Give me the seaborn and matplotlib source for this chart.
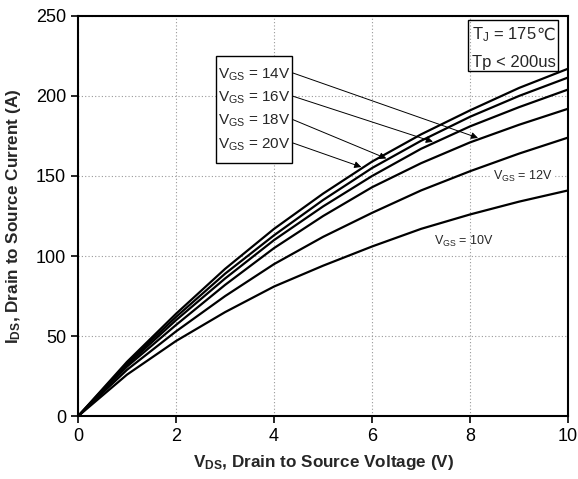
import numpy as np
import pandas as pd
import seaborn as sns
import matplotlib
matplotlib.use("Agg")
import matplotlib.pyplot as plt
from matplotlib.patches import Rectangle

# output characteristics at 1 V steps
vds = [0, 1, 2, 3, 4, 5, 6, 7, 8, 9, 10]
id_20v = [0, 34, 64, 92, 117, 139, 159, 176, 191, 205, 217]
id_18v = [0, 33, 62, 89, 113, 135, 155, 172, 187, 200, 211.5]
id_16v = [0, 32, 60, 86, 110, 131, 150, 167, 181, 193, 204]
id_14v = [0, 31, 57, 82, 105, 125, 143, 158, 171, 182, 192]
id_12v = [0, 29, 53, 75, 95, 112, 127, 141, 153, 164, 174]
id_10v = [0, 26, 47, 65, 81, 94, 106, 117, 126, 134, 141]

vgs_names = ["20V", "18V", "16V", "14V", "12V", "10V"]
curves = [id_20v, id_18v, id_16v, id_14v, id_12v, id_10v]

x_ticks = [0, 2, 4, 6, 8, 10]
y_ticks = [0, 50, 100, 150, 200, 250]

df = pd.DataFrame({
    "vds": vds * len(curves),
    "ids": [v for c in curves for v in c],
    "vgs": [n for n in vgs_names for _ in vds],
})

sns.set_style("ticks")
plt.rcParams["font.family"] = ["Liberation Sans", "DejaVu Sans"]
plt.rcParams["mathtext.fontset"] = "custom"
plt.rcParams["mathtext.rm"] = "Liberation Sans"
plt.rcParams["mathtext.it"] = "Liberation Sans:italic"
plt.rcParams["mathtext.bf"] = "Liberation Sans:bold"

fig = plt.figure(figsize=(5.78, 4.79), dpi=100)
ax = fig.add_axes([0.135, 0.131, 0.848, 0.836])

sns.lineplot(data=df, x="vds", y="ids", hue="vgs", palette=["black"] * 6,
             linewidth=1.6, legend=False, ax=ax, sort=False)

ax.set_xlim(0, 10)
ax.set_ylim(0, 250)
ax.set_xticks(x_ticks)
ax.set_yticks(y_ticks)
ax.tick_params(labelsize=13, length=5, width=1.2, direction="out", colors="black")
for sp in ax.spines.values():
    sp.set_visible(True)
    sp.set_linewidth(1.5)
    sp.set_color("black")
ax.grid(True, linestyle=(0, (1, 2)), color="#999999", linewidth=0.8)

ax.set_xlabel(r"V$_{\mathbf{DS}}$, Drain to Source Voltage (V)", fontsize=12.3,
              fontweight="bold", labelpad=6)
ax.set_ylabel(r"I$_{\mathbf{DS}}$, Drain to Source Current (A)", fontsize=12.3,
              fontweight="bold", labelpad=9)

# condition box, top right
ax.add_patch(Rectangle((7.96, 215.5), 1.84, 31.9, fill=False, lw=1.0,
                       ec="black", zorder=5))
tj = ax.text(8.03, 238.4, r"T$_{\mathrm{J}}$ = 175", fontsize=12, va="center", zorder=6)
ax.annotate("℃", xy=(1, 0.5), xycoords=tj, va="center", ha="left",
            fontsize=12, family="DejaVu Sans", zorder=6)
ax.text(8.03, 221.0, "Tp < 200us", fontsize=12, va="center", zorder=6)

# VGS label box with arrows
box_labels = ["14V", "16V", "18V", "20V"]
box_y = [213.4, 198.9, 184.3, 169.7]
tip_x = [8.16, 7.24, 6.29, 5.78]
box_curves = [id_14v, id_16v, id_18v, id_20v]
ax.add_patch(Rectangle((2.81, 158.4), 1.565, 66.3, fill=True, fc="white",
                       lw=1.0, ec="black", zorder=5))
for lab, yy, tx, cv in zip(box_labels, box_y, tip_x, box_curves):
    ax.text(2.86, yy, r"V$_{\mathrm{GS}}$ = " + lab, fontsize=11, va="center", zorder=6)
    ty = np.interp(tx, vds, cv) + 1
    ax.annotate("", xy=(tx, ty), xytext=(4.375, yy + 1),
                arrowprops=dict(arrowstyle="-|>", lw=0.7, color="black",
                                mutation_scale=10, shrinkA=0, shrinkB=0),
                zorder=6)

ax.text(8.46, 149.5, r"V$_{\mathrm{GS}}$ = 12V", fontsize=9, va="center",
        bbox=dict(fc="white", ec="none", pad=1))
ax.text(7.26, 109.2, r"V$_{\mathrm{GS}}$ = 10V", fontsize=9, va="center")

fig.savefig("out.png", dpi=100)
